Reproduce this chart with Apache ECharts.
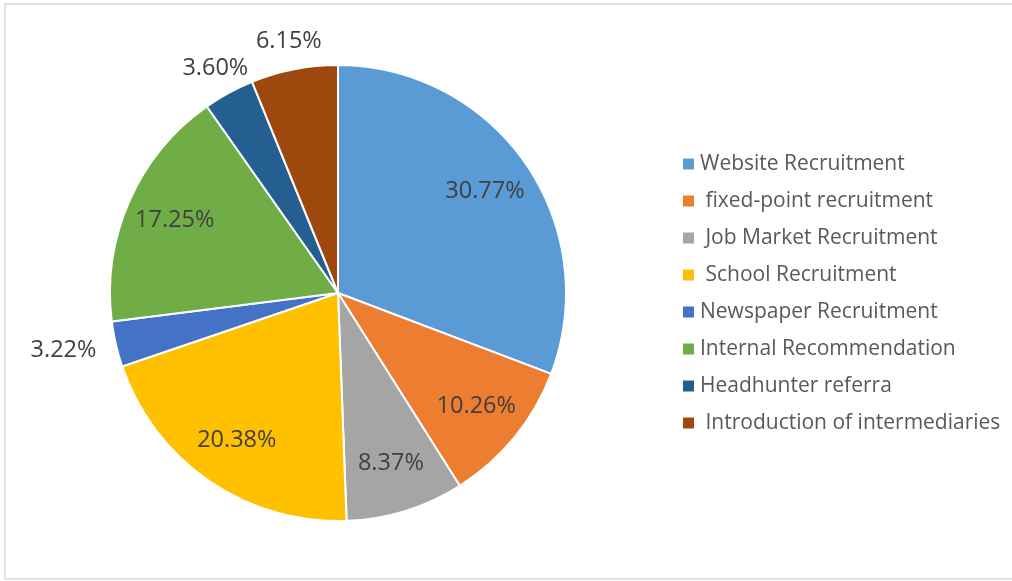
<!DOCTYPE html>
<html>
<head>
<meta charset="utf-8">
<script src="https://cdn.jsdelivr.net/npm/echarts@6/dist/echarts.min.js"></script>
<style>
  html, body { margin: 0; padding: 0; background: #fff; }
  #chart { width: 1012px; height: 581px; }
</style>
</head>
<body>
<div id="chart"></div>
<script>
// Recruitment channels, share of hires (%)
const channels = [
  'Website Recruitment',
  ' fixed-point recruitment',
  ' Job Market Recruitment',
  ' School Recruitment',
  'Newspaper Recruitment',
  'Internal Recommendation',
  'Headhunter referra',
  ' Introduction of intermediaries'
];
const shares = [30.77, 10.26, 8.37, 20.38, 3.22, 17.25, 3.60, 6.15];
const colors = ['#5B9BD5', '#ED7D31', '#A5A5A5', '#FFC000', '#4472C4', '#70AD47', '#255E91', '#9E480E'];
// Slices whose percentage sits outside the pie
const outsideLabel = [false, false, false, false, true, false, true, true];

const FONT = '"Open Sans", "Liberation Sans", sans-serif';
const CX = 338, CY = 293, R = 228;

const chart = echarts.init(document.getElementById('chart'), null, { renderer: 'canvas' });

const labelStyle = {
  fontFamily: FONT,
  fontSize: 23.5,
  color: '#404040',
  formatter: p => p.value.toFixed(2) + '%'
};

chart.setOption({
  animation: false,
  color: colors,
  graphic: [{
    type: 'rect',
    shape: { x: 5, y: 4, width: 1020, height: 575 },
    style: { fill: 'none', stroke: '#d9d9d9', lineWidth: 1.5 },
    silent: true,
    z: -10
  }],
  legend: {
    orient: 'vertical',
    left: 676,
    top: 148,
    icon: 'rect',
    itemWidth: 13,
    itemHeight: 13,
    itemGap: 15,
    selectedMode: false,
    data: channels,
    textStyle: { fontFamily: FONT, fontSize: 21, lineHeight: 22, color: '#595959', padding: [0, 0, 0, 0] }
  },
  series: [
    {
      // slices
      type: 'pie',
      center: [CX, CY],
      radius: [0, R],
      startAngle: 90,
      clockwise: true,
      avoidLabelOverlap: false,
      label: { show: false },
      labelLine: { show: false },
      itemStyle: { borderColor: '#ffffff', borderWidth: 2 },
      emphasis: { disabled: true },
      data: channels.map((n, i) => ({ name: n, value: shares[i] }))
    },
    {
      // percentages drawn inside the larger slices
      type: 'pie',
      center: [CX, CY],
      radius: [R * 0.54, R],
      startAngle: 90,
      clockwise: true,
      silent: true,
      avoidLabelOverlap: false,
      itemStyle: { color: 'rgba(0,0,0,0)' },
      emphasis: { disabled: true },
      labelLine: { show: false },
      label: Object.assign({ position: 'inside' }, labelStyle),
      data: shares.map((v, i) => ({ value: v, label: { show: !outsideLabel[i] } }))
    },
    {
      // percentages drawn just outside the small slices
      type: 'pie',
      center: [CX, CY],
      radius: [R * 1.02, R * 1.2],
      startAngle: 90,
      clockwise: true,
      silent: true,
      avoidLabelOverlap: false,
      itemStyle: { color: 'rgba(0,0,0,0)' },
      emphasis: { disabled: true },
      labelLine: { show: false },
      label: Object.assign({ position: 'inside' }, labelStyle),
      data: shares.map((v, i) => ({
        value: v,
        label: i === 4
          ? { show: true, padding: [0, 50, 0, 0], lineHeight: 36, verticalAlign: 'bottom' }
          : { show: outsideLabel[i] }
      }))
    }
  ]
});
</script>
</body>
</html>
